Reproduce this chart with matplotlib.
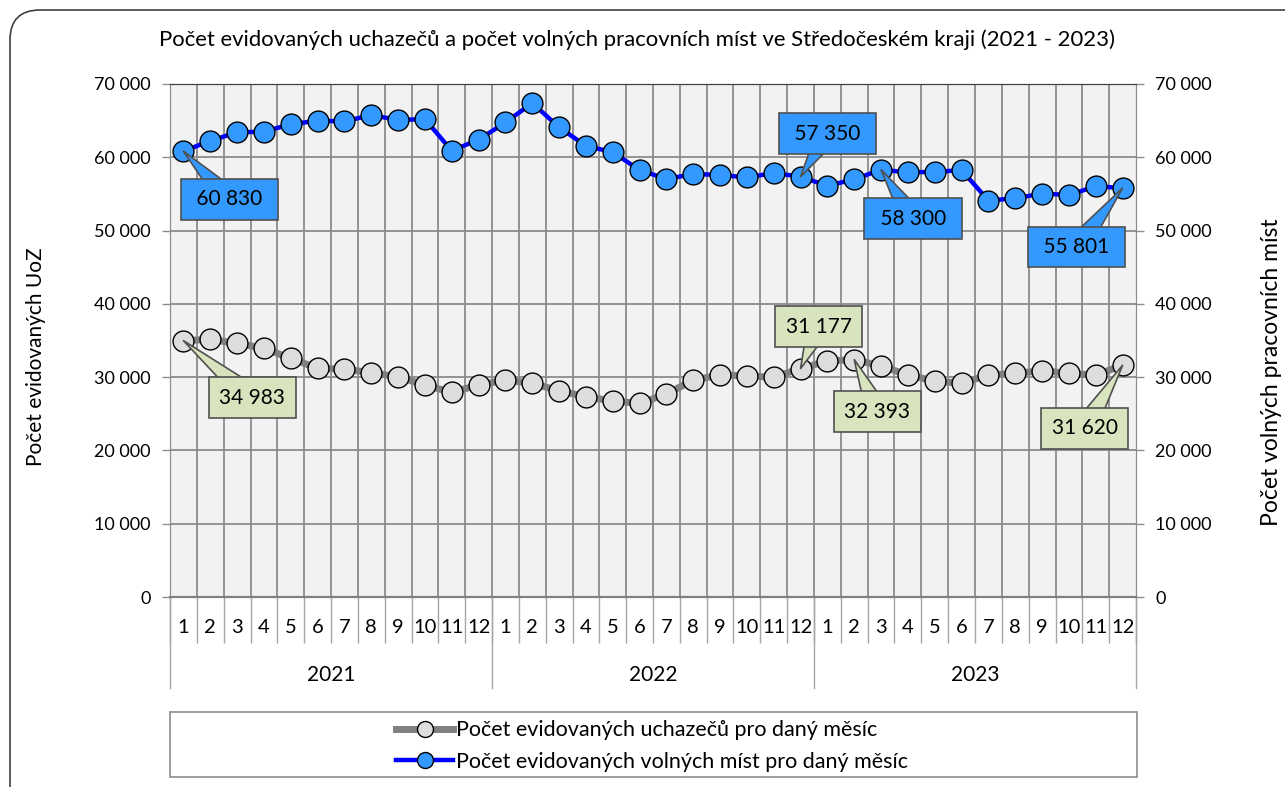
import matplotlib
matplotlib.use("Agg")
import matplotlib.pyplot as plt
from matplotlib.ticker import FuncFormatter, FixedLocator
from matplotlib.patches import FancyBboxPatch, Rectangle
from matplotlib.lines import Line2D
from matplotlib.transforms import IdentityTransform
import numpy as np

plt.rcParams['font.family'] = ['Lato', 'DejaVu Sans']

years = ["2021", "2022", "2023"]
months = [str(m) for m in range(1, 13)]

uchazeci = [34983, 35150, 34610, 33930, 32560, 31200, 31100, 30600, 30060, 28920, 27920, 28920,
            29600, 29150, 28150, 27330, 26740, 26420, 27690, 29600, 30290, 30190, 29970, 31177,
            32200, 32393, 31510, 30290, 29470, 29150, 30290, 30520, 30870, 30520, 30290, 31620]
volna_mista = [60830, 62250, 63400, 63500, 64500, 65000, 64900, 65750, 65100, 65200, 60900, 62400,
               64750, 67400, 64100, 61550, 60700, 58250, 57050, 57700, 57600, 57250, 57850, 57350,
               56100, 57000, 58300, 57950, 58000, 58250, 54100, 54400, 55050, 54850, 56050, 55801]

# indices of labelled points (callouts)
lab_uch = [0, 23, 25, 35]
lab_vm = [0, 23, 26, 35]

title = "Počet evidovaných uchazečů a počet volných pracovních míst ve Středočeském kraji (2021 - 2023)"
ylabel_l = "Počet evidovaných UoZ"
ylabel_r = "Počet volných pracovních míst"
leg1 = "Počet evidovaných uchazečů pro daný měsíc"
leg2 = "Počet evidovaných volných míst pro daný měsíc"

W, H = 1285, 787
fig = plt.figure(figsize=(W / 100, H / 100), dpi=100)
fig.patch.set_facecolor("white")

L, R, T, B = 170, 1136, 84, 597
ax = fig.add_axes([L / W, 1 - B / H, (R - L) / W, (B - T) / H])
ax2 = ax.twinx()

n = len(uchazeci)
x = np.arange(n)
ax.set_xlim(-0.5, n - 0.5)
ax.set_ylim(0, 70000)
ax2.set_ylim(0, 70000)
ax.set_facecolor("#F2F2F2")

grid_c = "#8C8C8C"
fmt = FuncFormatter(lambda v, p: f"{int(v):,}".replace(",", " "))
yt = np.arange(0, 70001, 10000)
for a in (ax, ax2):
    a.set_yticks(yt)
    a.yaxis.set_major_formatter(fmt)
    a.tick_params(axis="y", length=6, width=1, color=grid_c, labelsize=13, pad=8)
for v in yt[1:]:
    ax.axhline(v, color=grid_c, lw=1.3, zorder=0.5)
for b in np.arange(-0.5, n, 1.0)[1:-1]:
    ax.axvline(b, color=grid_c, lw=1.3, zorder=0.5)

# x axis: months and years
ax.xaxis.set_major_locator(FixedLocator(x))
ax.set_xticklabels(months * len(years), fontsize=14.5)
ax.xaxis.set_minor_locator(FixedLocator(np.arange(-0.5, n, 1.0)))
ax.tick_params(axis="x", which="major", length=0, pad=16)
ax.tick_params(axis="x", which="minor", length=33, width=1, color="#A6A6A6")
ax2.tick_params(axis="x", length=0)
trans = ax.get_xaxis_transform()
for i, yr in enumerate(years):
    x0 = i * 12 - 0.5
    ax.plot([x0, x0], [0, -0.177], transform=trans, color="#A6A6A6", lw=1, clip_on=False)
    ax.text(i * 12 + 5.5, -0.153, yr, transform=trans, ha="center", va="center", fontsize=15)
ax.plot([n - 0.5, n - 0.5], [0, -0.177], transform=trans, color="#A6A6A6", lw=1, clip_on=False)

for a in (ax, ax2):
    for s in ("left", "right"):
        a.spines[s].set_color(grid_c)
    a.spines["top"].set_color("#404040")
    a.spines["bottom"].set_color("#7F7F7F")
    a.spines["bottom"].set_linewidth(1.5)

ax.plot(x, uchazeci, color="#808080", lw=5, marker="o", ms=15, mfc="#DDDDDD",
        mec="black", mew=1, zorder=3)
ax2.plot(x, volna_mista, color="#0000FF", lw=3.2, marker="o", ms=15, mfc="#3399FF",
         mec="black", mew=1, zorder=3)

fig.text(637 / W, 1 - 40 / H, title, ha="center", va="center", fontsize=15.9)
fig.text(36 / W, 1 - 357 / H, ylabel_l, rotation=90, ha="center", va="center", fontsize=15)
fig.text(1272 / W, 1 - 372 / H, ylabel_r, rotation=90, ha="center", va="center", fontsize=16.5)

def callout(a, i, vals, off, fc, padtxt):
    a.annotate(padtxt + f"{vals[i]:,}".replace(",", " ") + padtxt, xy=(i, vals[i]), xytext=off,
               textcoords="offset pixels", ha="center", va="center", fontsize=15,
               bbox=dict(boxstyle="square,pad=0.5", fc=fc, ec="#505050", lw=1.2),
               arrowprops=dict(arrowstyle="wedge,tail_width=1.1,shrink_factor=0.5",
                               fc=fc, ec="#505050", lw=1.2, patchA=None,
                               shrinkA=0, shrinkB=0),
               zorder=6, annotation_clip=False)

offs_vm = [(46, -48), (27, 43), (32, -49), (-46, -59)]
offs_uch = [(69, -57), (18, 42), (23, -52), (-38, -63)]
for i, o in zip(lab_vm, offs_vm):
    callout(ax2, i, volna_mista, o, "#3399FF", " ")
for i, o in zip(lab_uch, offs_uch):
    callout(ax2, i, uchazeci, o, "#D7E4BD", "")

# legend
lx0, ly0, lx1, ly1 = 170, 712, 1137, 777
fig.patches.append(Rectangle((lx0 / W, 1 - ly1 / H), (lx1 - lx0) / W, (ly1 - ly0) / H,
                             transform=fig.transFigure, fill=False, ec="#8C8C8C", lw=1.2))
h1 = Line2D([], [], color="#808080", lw=5, marker="o", ms=11.5, mfc="#DDDDDD", mec="black", mew=1)
h2 = Line2D([], [], color="#0000FF", lw=3.2, marker="o", ms=11.5, mfc="#3399FF", mec="black", mew=1)
fig.legend([h1, h2], [leg1, leg2], loc="center", bbox_to_anchor=(652 / W, 1 - 746 / H),
           frameon=False, fontsize=15.5, handlelength=2.65, handletextpad=0.1, labelspacing=0.55,
           borderaxespad=0, borderpad=0)

# outer rounded border
fig.patches.append(FancyBboxPatch((10, -30), 1320, H - 10 + 30,
                                  boxstyle="round,pad=0,rounding_size=30",
                                  transform=IdentityTransform(), fill=False, ec="#404040", lw=1.2))

fig.savefig("out.png", dpi=100)
